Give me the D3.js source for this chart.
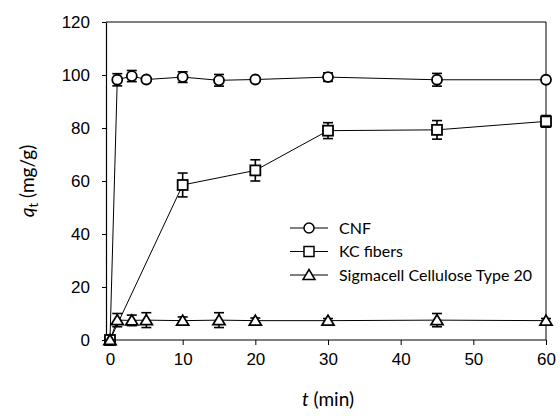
<!DOCTYPE html>
<html>
<head>
<meta charset="utf-8">
<script src="https://cdn.jsdelivr.net/npm/d3@7"></script>
<style>
  body { margin: 0; background: #fff; }
  svg { display: block; }
</style>
</head>
<body>
<svg id="chart" width="560" height="419"></svg>
<script>
// data
var times = [0, 1, 3, 5, 10, 15, 20, 30, 45, 60];
var cnfVals = [0, 98.2, 99.6, 98.3, 99.2, 98.0, 98.3, 99.2, 98.2, 98.2];
var cnfErr  = [0, 2.3, 2.1, 0.6, 2.0, 2.2, 0.7, 1.6, 2.4, 0.5];
var kcTimes = [0, 10, 20, 30, 45, 60];
var kcVals  = [0, 58.5, 64.0, 79.0, 79.3, 82.5];
var kcErr   = [0, 4.5, 4.0, 3.0, 3.5, 2.2];
var sigVals = [0, 7.5, 7.4, 7.5, 7.3, 7.5, 7.3, 7.3, 7.5, 7.3];
var sigErr  = [0, 2.5, 2.0, 2.8, 1.4, 2.8, 1.0, 0.8, 2.5, 0.8];
var seriesNames = ["CNF", "KC fibers", "Sigmacell Cellulose Type 20"];
var xTicks = [0, 10, 20, 30, 40, 50, 60];
var yTicks = [0, 20, 40, 60, 80, 100, 120];

var margin = {top: 22, right: 14, bottom: 79, left: 106},
    width = 560 - margin.left - margin.right,
    height = 419 - margin.top - margin.bottom;

var x = d3.scaleLinear().domain([-0.55, 60]).range([0, width]);
var y = d3.scaleLinear().domain([0, 120]).range([height, 0]);

var svg = d3.select("#chart")
    .append("g")
    .attr("transform", "translate(" + margin.left + "," + margin.top + ")");

// frame (top and right)
svg.append("path")
    .attr("d", "M0,0H" + width + "V" + height)
    .attr("fill", "none")
    .attr("stroke", "#000")
    .attr("stroke-width", 1);

var xAxis = svg.append("g")
    .attr("transform", "translate(0," + height + ")")
    .call(d3.axisBottom(x).tickValues(xTicks).tickSize(5).tickPadding(8).tickSizeOuter(0));
var yAxis = svg.append("g")
    .call(d3.axisLeft(y).tickValues(yTicks).tickSize(4).tickPadding(12).tickSizeOuter(0));

[xAxis, yAxis].forEach(function(a) {
  a.select(".domain").attr("stroke", "#000").attr("stroke-width", 1.2);
  a.selectAll(".tick line").attr("stroke", "#000");
  a.selectAll("text")
    .attr("font-family", "Liberation Sans, Arial, sans-serif")
    .attr("font-size", 17)
    .attr("fill", "#000");
});
// axis line spans whole x range
xAxis.select(".domain").attr("d", "M0,0H" + width);

function makeSeries(ts, vs, es) {
  return ts.map(function(t, i) { return {t: t, v: vs[i], e: es[i]}; });
}
var series = [
  {name: seriesNames[0], shape: "circle", data: makeSeries(times, cnfVals, cnfErr)},
  {name: seriesNames[1], shape: "square", data: makeSeries(kcTimes, kcVals, kcErr)},
  {name: seriesNames[2], shape: "triangle", data: makeSeries(times, sigVals, sigErr)}
];

var line = d3.line()
    .x(function(d) { return x(d.t); })
    .y(function(d) { return y(d.v); });

function drawMarker(g, shape) {
  if (shape === "circle") {
    g.append("circle").attr("r", 5);
  } else if (shape === "square") {
    g.append("rect").attr("x", -5).attr("y", -5).attr("width", 10).attr("height", 10);
  } else {
    g.append("path").attr("d", "M0,-5.5L6,4.5L-6,4.5Z");
  }
  g.selectAll("*").attr("fill", "#fff").attr("stroke", "#000").attr("stroke-width", 1.8);
}

series.forEach(function(s) {
  svg.append("path")
      .datum(s.data)
      .attr("fill", "none")
      .attr("stroke", "#000")
      .attr("stroke-width", 1)
      .attr("d", line);

  var eb = svg.append("g").selectAll("g")
      .data(s.data.filter(function(d) { return d.e > 0; }))
      .enter().append("g")
      .attr("stroke", "#000")
      .attr("stroke-width", 1.6);
  eb.append("line")
      .attr("x1", function(d) { return x(d.t); })
      .attr("x2", function(d) { return x(d.t); })
      .attr("y1", function(d) { return y(d.v + d.e); })
      .attr("y2", function(d) { return y(d.v - d.e); });
  [1, -1].forEach(function(sg) {
    eb.append("line")
        .attr("x1", function(d) { return x(d.t) - 5; })
        .attr("x2", function(d) { return x(d.t) + 5; })
        .attr("y1", function(d) { return y(d.v + sg * d.e); })
        .attr("y2", function(d) { return y(d.v + sg * d.e); });
  });

  svg.append("g").selectAll("g")
      .data(s.data)
      .enter().append("g")
      .attr("transform", function(d) { return "translate(" + x(d.t) + "," + y(d.v) + ")"; })
      .each(function() { drawMarker(d3.select(this), s.shape); });
});

// legend
var legend = svg.append("g").attr("transform", "translate(" + (290 - margin.left) + "," + (228 - margin.top) + ")");
series.forEach(function(s, i) {
  var row = legend.append("g").attr("transform", "translate(0," + (i * 23.5) + ")");
  row.append("line").attr("x1", 0).attr("x2", 38).attr("stroke", "#000").attr("stroke-width", 1);
  var m = row.append("g").attr("transform", "translate(19,0)");
  drawMarker(m, s.shape);
  m.selectAll("*").attr("stroke-width", 1.5);
  row.append("text")
      .attr("x", 49)
      .attr("dy", "0.35em")
      .attr("font-family", "Lato, Carlito, sans-serif")
      .attr("font-size", 16)
      .text(s.name);
});

// axis titles
var xt = svg.append("text")
    .attr("x", x(30))
    .attr("y", height + 66)
    .attr("text-anchor", "middle")
    .attr("font-family", "Lato, Carlito, sans-serif")
    .attr("font-size", 19);
xt.append("tspan").attr("font-style", "italic").text("t");
xt.append("tspan").text(" (min)");

var yt = svg.append("text")
    .attr("transform", "translate(" + (-72) + "," + (height / 2) + ") rotate(-90)")
    .attr("text-anchor", "middle")
    .attr("font-family", "Lato, Carlito, sans-serif")
    .attr("font-size", 19);
yt.append("tspan").attr("font-style", "italic").text("q");
yt.append("tspan").attr("font-size", 13).attr("dy", 4).text("t");
yt.append("tspan").attr("dy", -4).text(" (mg/g)");
</script>
</body>
</html>
